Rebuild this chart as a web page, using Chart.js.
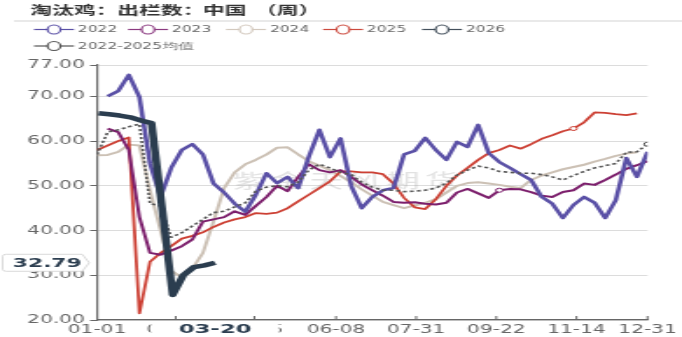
<!DOCTYPE html>
<html>
<head>
<meta charset="utf-8">
<script src="https://cdn.jsdelivr.net/npm/chart.js@4.4.0/dist/chart.umd.min.js"></script>
<style>
  html, body { margin: 0; padding: 0; background: #fff; overflow: hidden; }
  /* the reference is a narrow chart stretched sideways, so draw narrow and stretch */
  #wrap { width: 390px; height: 337px; transform: scaleX(1.7487); transform-origin: 0 0; }
</style>
</head>
<body>
<div id="wrap"><canvas id="chart"></canvas></div>
<script>
const weekDates = ['01-01','01-08','01-15','01-22','01-29','02-05','02-12','02-19','02-26','03-05','03-12','03-19','03-26',
  '04-02','04-09','04-16','04-23','04-30','05-07','05-14','05-21','05-28','06-04','06-11','06-18','06-25',
  '07-02','07-09','07-16','07-23','07-30','08-06','08-13','08-20','08-27','09-03','09-10','09-17','09-24',
  '10-01','10-08','10-15','10-22','10-29','11-05','11-12','11-19','11-26','12-03','12-10','12-17','12-24','12-31'];
const dates2026 = ['01-02','01-09','01-16','01-23','01-30','02-06','02-13','02-20','02-27','03-06','03-13','03-20'];

const xTickLabels = ['01-01','02-22','04-15','06-08','07-31','09-22','11-14','12-31'];
const yTicks = [20, 30, 40, 50, 60, 70, 77];
const seriesNames = ['2022', '2023', '2024', '2025', '2026', '2022-2025均值'];
const titleParts = ['淘汰鸡：', '出栏数：', '中国', '（周）'];

const v2022 = [null, 70, 71.2, 74.8, 69.8, 55, 47.5, 54, 58, 59.3, 57, 50.5, 48.5, 46, 44.2, 48, 52.8, 50.6, 52, 49.5,
  56.5, 62.5, 56.4, 60.6, 50, 45, 47.5, 49, 49.5, 57, 57.8, 60.7, 58, 55.8, 59.8, 58.7, 63.6, 57.3, 55.3, 54,
  52.6, 51.3, 47.5, 46, 42.8, 45.7, 47.5, 46.2, 42.8, 46.8, 56.2, 52, 57.6];
const v2023 = [null, 62.8, 62, 58, 43, 35, 34.6, 35.5, 36.5, 38, 42, 42.5, 43, 44.3, 43.5, 45.5, 47.5, 50, 48.8, 52,
  54.8, 53.5, 53, 53.5, 52, 50.3, 49, 47.8, 46.4, 46.2, 46.3, 46, 45.8, 46.2, 48.5, 49.3, 48.3, 47.3, 49, 49.3,
  49.2, 48.6, 47.8, 47.5, 48.6, 49, 50.5, 50.2, 51.3, 52.5, 53.8, 54.6, 55.5];
const v2024 = [56.8, 56.9, 57.6, 59.2, 59, 49, 40, 31, 29.5, 31.5, 35, 42, 49.5, 53, 54.8, 55.8, 57, 58.5, 58.6, 57,
  55.5, 54.5, 53.5, 52.2, 50.8, 49.2, 47.8, 46.4, 45.7, 45, 45.6, 46.2, 47, 48.5, 50, 50.6, 50.8, 50.5, 50.2, 49.8,
  49.5, 51.3, 52.3, 53, 53.7, 54.2, 54.7, 55.4, 56, 56.7, 57.2, 57.5, null];
const v2025 = [58, 59, 60, 60.8, 21.5, 33, 35, 36.5, 38.2, 38.8, 39.6, 40.8, 41.8, 42.5, 43, 43.9, 43.7, 44, 45, 46.5,
  48, 49.5, 51, 53.2, 53.2, 53, 53, 52.6, 50.5, 47.3, 45.2, 44.8, 47, 50, 52.3, 54, 55.8, 57.3, 58, 59,
  58.3, 59.3, 60.5, 61.3, 62.2, 62.8, 64.2, 66.4, 66.3, 66, 65.8, 66.2, null];
const v2026 = [66.2, 66, 65.7, 65.3, 64.6, 64, 45, 25.6, 30, 31.8, 32.2, 32.79];
const vAvg = [57, 62, 62.5, 63.2, 63.8, 46, 45.5, 38.5, 39.5, 41, 42.5, 44, 44.3, 45.3, 46.2, 48.8, 49.7, 50, 49.8, 50.8,
  53.5, 54.8, 54, 53, 52.5, 50.8, 49.7, 49, 49, 48.7, 48.8, 49, 49.5, 50.6, 52.4, 53.5, 54.4, 54, 53.2, 53,
  52.8, 52.8, 52.5, 52, 51.3, 52.3, 53.2, 54, 54.5, 55, 57.5, 57.6, 59.3];

const S = 682 / 390;
const monthStart = [0, 31, 59, 90, 120, 151, 181, 212, 243, 273, 304, 334];
function dayOf(md) {
  const [m, d] = md.split('-').map(Number);
  return monthStart[m - 1] + d - 1;
}
function toPoints(dates, vals) {
  return vals.map((v, i) => ({ x: dayOf(dates[i]), y: v }));
}
function markAt(idx) {
  return c => (c.dataIndex === idx ? 2 : 0);
}

Chart.defaults.font.family = '"DejaVu Sans", sans-serif';

const overlay = {
  id: 'overlay',
  beforeDatasetsDraw(chart) {
    const ctx = chart.ctx;
    ctx.save();
    ctx.font = '19px "Noto Sans CJK SC"';
    ctx.fillStyle = 'rgba(160,160,160,0.3)';
    [...'紫金天风期货'].forEach((c, i) => ctx.fillText(c, 133 + i * 22, 188));
    ctx.restore();
  },
  afterDraw(chart) {
    const { ctx, scales: { x, y } } = chart;
    ctx.save();

    // title + rule (x given in stretched px)
    ctx.font = 'bold 12.5px "Noto Sans CJK SC"';
    ctx.fillStyle = '#333';
    ctx.textBaseline = 'alphabetic';
    const titleX = [30, 117, 203, 255];
    titleParts.forEach((t, i) => ctx.fillText(t, titleX[i] / S, 15));
    ctx.strokeStyle = '#e2e2e2';
    ctx.lineWidth = 1.5;
    ctx.beginPath(); ctx.moveTo(8, 21); ctx.lineTo(390, 21); ctx.stroke();

    // legend
    ctx.font = '8.8px "DejaVu Sans"';
    ctx.textBaseline = 'middle';
    const legTextX = [78, 172, 270, 367, 466, 78];
    const legY = [29.5, 29.5, 29.5, 29.5, 29.5, 46];
    chart.data.datasets.forEach((ds, i) => {
      const tx = legTextX[i] / S, cx = (legTextX[i] - 24) / S, ly = legY[i];
      ctx.strokeStyle = ds.legendColor;
      ctx.lineWidth = 1.2;
      ctx.beginPath(); ctx.moveTo(cx - 20 / S, ly); ctx.lineTo(cx + 20 / S, ly); ctx.stroke();
      ctx.fillStyle = '#fff';
      ctx.beginPath(); ctx.ellipse(cx, ly, 6.5 / S, 4.5, 0, 0, Math.PI * 2); ctx.fill(); ctx.stroke();
      ctx.fillStyle = '#666';
      ctx.fillText(ds.label, tx, ly + 0.5);
    });

    // small x ticks pointing up
    ctx.strokeStyle = '#666';
    ctx.lineWidth = 1;
    xTickLabels.forEach(l => {
      const px = x.getPixelForValue(dayOf(l));
      ctx.beginPath(); ctx.moveTo(px, y.bottom); ctx.lineTo(px, y.bottom - 4); ctx.stroke();
    });

    // crosshair value tag on y axis
    const lastVal = v2026[v2026.length - 1];
    const py = y.getPixelForValue(lastVal);
    const bx0 = 1.5, bx1 = 47, tip = 51, h = 17;
    ctx.beginPath();
    ctx.moveTo(bx0 + 2, py - h / 2);
    ctx.lineTo(bx1, py - h / 2);
    ctx.lineTo(tip, py);
    ctx.lineTo(bx1, py + h / 2);
    ctx.lineTo(bx0 + 2, py + h / 2);
    ctx.quadraticCurveTo(bx0, py + h / 2, bx0, py + h / 2 - 2);
    ctx.lineTo(bx0, py - h / 2 + 2);
    ctx.quadraticCurveTo(bx0, py - h / 2, bx0 + 2, py - h / 2);
    ctx.closePath();
    ctx.fillStyle = '#fff';
    ctx.fill();
    ctx.strokeStyle = '#cfcfcf';
    ctx.lineWidth = 0.8;
    ctx.stroke();
    ctx.font = 'bold 12.5px "DejaVu Sans"';
    ctx.fillStyle = '#2c3e50';
    ctx.textAlign = 'center';
    ctx.textBaseline = 'middle';
    ctx.fillText(lastVal.toFixed(2), 27, py + 0.5);

    // crosshair date tag on x axis
    const lastDate = dates2026[dates2026.length - 1];
    const px = x.getPixelForValue(dayOf(lastDate));
    ctx.fillStyle = '#fff';
    ctx.fillRect(px - 36.6, y.bottom + 1.5, 73.2, 20);
    ctx.font = 'bold 13px "DejaVu Sans"';
    ctx.fillStyle = '#2c3e50';
    ctx.textBaseline = 'top';
    ctx.fillText(lastDate, px, y.bottom + 3);

    ctx.restore();
  }
};

new Chart(document.getElementById('chart'), {
  type: 'line',
  data: {
    datasets: [
      { label: seriesNames[0], data: toPoints(weekDates, v2022), borderColor: '#5a50a6', legendColor: '#5a50a6', borderWidth: 2.6, order: 2 },
      { label: seriesNames[1], data: toPoints(weekDates, v2023), borderColor: '#7c1f6c', legendColor: '#8b3a80', borderWidth: 2, order: 3,
        pointRadius: markAt(38), pointBackgroundColor: '#fff', pointBorderColor: '#7c1f6c', pointBorderWidth: 1 },
      { label: seriesNames[2], data: toPoints(weekDates, v2024), borderColor: '#ccc1b5', legendColor: '#d3c9be', borderWidth: 2, order: 5 },
      { label: seriesNames[3], data: toPoints(weekDates, v2025), borderColor: '#cc4034', legendColor: '#cc4a3e', borderWidth: 1.8, order: 4,
        pointRadius: markAt(45), pointBackgroundColor: '#fff', pointBorderColor: '#cc4034', pointBorderWidth: 1 },
      { label: seriesNames[4], data: toPoints(dates2026, v2026), borderColor: '#2b3d4f', legendColor: '#44505c', borderWidth: 4.5, order: 0 },
      { label: seriesNames[5], data: toPoints(weekDates, vAvg), borderColor: '#555', legendColor: '#555', borderWidth: 1.6, borderDash: [2.2, 1.8], order: 1,
        pointRadius: markAt(52), pointBackgroundColor: '#fff', pointBorderColor: '#555', pointBorderWidth: 1 }
    ]
  },
  options: {
    responsive: true,
    maintainAspectRatio: false,
    animation: false,
    devicePixelRatio: 1,
    layout: { padding: { top: 65, right: 18.3, left: 0, bottom: 0 } },
    elements: {
      line: { tension: 0, borderJoinStyle: 'round', borderCapStyle: 'butt' },
      point: { radius: 0, hoverRadius: 0 }
    },
    plugins: { legend: { display: false }, tooltip: { enabled: false } },
    scales: {
      x: {
        type: 'linear', min: 0, max: 364,
        afterBuildTicks: s => { s.ticks = xTickLabels.map(l => ({ value: dayOf(l) })); },
        afterFit: s => { s.height = 17; },
        ticks: {
          autoSkip: false, maxRotation: 0, padding: 3, color: '#666', font: { size: 11.5 },
          callback: v => xTickLabels.find(l => dayOf(l) === v)
        },
        grid: { drawOnChartArea: false, drawTicks: false },
        border: { color: '#666', width: 1.2 }
      },
      y: {
        type: 'linear', min: 20, max: 77,
        afterBuildTicks: s => { s.ticks = yTicks.map(v => ({ value: v })); },
        afterFit: s => { s.width = 55.5; },
        ticks: { padding: 3, color: '#666', font: { size: 11.5 }, callback: v => v.toFixed(2) },
        grid: { color: '#dcdcdc', lineWidth: 1, tickLength: 4, tickColor: '#666' },
        border: { color: '#666', width: 1.2 }
      }
    }
  },
  plugins: [overlay]
});
</script>
</body>
</html>
